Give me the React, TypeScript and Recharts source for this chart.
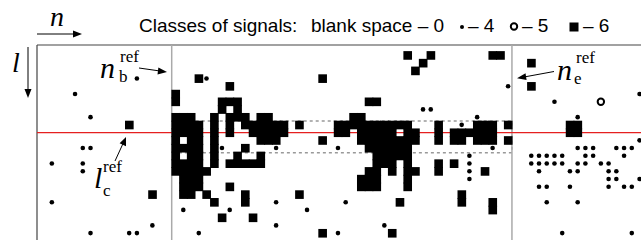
import { ScatterChart, Scatter, XAxis, YAxis, ReferenceLine, ReferenceArea } from 'recharts';

// signal classes on the (n, l) grid, one list of n-columns per row l
const squareRows: number[][] = [
  [],
  [48, 51, 59, 60],
  [50, 64],
  [49],
  [21, 37],
  [25, 64],
  [18],
  [18, 24, 25, 26, 43, 44],
  [24, 26],
  [18, 19, 20, 23, 25, 26, 27, 29, 30, 41, 42],
  [12, 18, 19, 20, 21, 23, 25, 27, 28, 29, 30, 31, 32, 34, 39, 40, 41, 42, 43, 44, 45, 46, 47, 48, 52, 57, 58, 59, 61, 69, 70],
  [18, 19, 20, 21, 23, 25, 28, 29, 30, 31, 32, 39, 40, 42, 43, 44, 45, 46, 48, 49, 52, 54, 55, 56, 57, 58, 59, 69, 70],
  [18, 20, 21, 23, 29, 30, 31, 37, 42, 43, 44, 45, 46, 47, 48, 49, 52, 54, 55, 57, 58, 59, 61],
  [18, 19, 20, 21, 23, 27, 43, 44, 45, 46, 47, 48],
  [18, 20, 21, 23, 26, 29, 44, 45, 46, 47, 48],
  [18, 19, 20, 21, 23, 25, 26, 27, 28, 29, 44, 45, 46, 48, 52, 54],
  [18, 19, 20, 21, 22, 43, 44, 46, 48, 49, 52, 58],
  [19, 20, 21, 42, 43, 44, 48],
  [19, 20, 21, 25, 42, 43, 44, 48],
  [15, 19, 20, 22, 27, 34, 55],
  [23, 27, 47, 55, 59],
  [59],
  [24, 28],
  [],
  [37, 46],
  [],
];

const dotRows: number[][] = [
  [],
  [],
  [],
  [],
  [13, 22],
  [61],
  [5, 78],
  [67],
  [50, 51],
  [7, 57, 70],
  [55],
  [],
  [78],
  [6, 7, 24, 31, 39, 59, 70, 71, 72, 75, 76, 77],
  [56, 64, 65, 66, 67, 68, 71, 72, 76],
  [2, 6, 56, 64, 65, 66, 67, 68, 70, 71, 73, 74],
  [6, 56, 65, 69, 70, 74, 75],
  [56, 74, 75, 78],
  [65, 66, 69, 74, 76, 77],
  [],
  [2, 31, 40, 66, 70],
  [19, 25, 35],
  [],
  [15, 31, 45],
  [7, 12, 13, 21, 39, 68, 77],
  [],
];

// [n, l]
const circleCells: number[][] = [[73, 7]];

const nRefB = 18;
const nRefE = 62;
const lRefC = 11.5;
const bandTop = 10;
const bandBottom = 14.1;
const nDomain = [0.58, 78.69];
const lDomain = [0.17, 25.39];

const W = 641;
const H = 240;
const M = { top: 45, left: 37, right: 0, bottom: 0 };
const CELL = (W - M.left - M.right) / (nDomain[1] - nDomain[0]);

const toPoints = (rows: number[][]) =>
  rows.flatMap((cols, l) => cols.map((n) => ({ n: n + 0.5, l: l + 0.5 })));

const squares = toPoints(squareRows);
const dots = toPoints(dotRows);
const circles = circleCells.map(([n, l]) => ({ n: n + 0.5, l: l + 0.5 }));

// slightly oversized so neighbouring cells merge without seams
const SquareShape = (p: any) => (
  <rect x={p.cx - CELL / 2 - 0.3} y={p.cy - CELL / 2 - 0.3} width={CELL + 0.9} height={CELL + 0.9} fill="#000" />
);
const DotShape = (p: any) => <circle cx={p.cx} cy={p.cy} r={2.3} fill="#000" />;
const RingShape = (p: any) => (
  <circle cx={p.cx} cy={p.cy} r={3.2} fill="none" stroke="#000" strokeWidth={2} />
);

const serif = '"Liberation Serif", "Times New Roman", serif';
const sans = '"Liberation Sans", Arial, sans-serif';

function Annotations() {
  return (
    <svg width={W} height={H} style={{ position: 'absolute', left: 0, top: 0, pointerEvents: 'none' }}>
      {/* n axis arrow */}
      <text x={50} y={26} fontFamily={serif} fontStyle="italic" fontSize={28}>n</text>
      <line x1={37} y1={34} x2={76} y2={34} stroke="#000" strokeWidth={1} />
      <path d="M82,34 L73,30.5 L73,37.5 Z" fill="#000" />
      {/* l axis arrow */}
      <text x={12} y={72} fontFamily={serif} fontStyle="italic" fontSize={28}>l</text>
      <line x1={28} y1={47} x2={28} y2={91} stroke="#000" strokeWidth={1} />
      <path d="M28,98 L24.5,89 L31.5,89 Z" fill="#000" />

      {/* legend */}
      <g fontFamily={sans} fontSize={19} fill="#000">
        <text x={139} y={32}>Classes of signals:</text>
        <text x={311} y={32}>blank space – 0</text>
        <circle cx={462} cy={27} r={2} fill="#000" />
        <text x={468} y={32}>– 4</text>
        <circle cx={514} cy={26.5} r={3.2} fill="none" stroke="#000" strokeWidth={2} />
        <text x={522} y={32}>– 5</text>
        <rect x={569.5} y={22.5} width={9} height={9} fill="#000" />
        <text x={583} y={32}>– 6</text>
      </g>

      {/* n_b ref */}
      <g fontFamily={serif} fill="#000">
        <text x={100} y={78} fontStyle="italic" fontSize={30}>n</text>
        <text x={120} y={62} fontSize={17}>ref</text>
        <text x={119} y={82} fontSize={17}>b</text>
      </g>
      <line x1={139} y1={68} x2={160} y2={71} stroke="#000" strokeWidth={1} />
      <path d="M167,72 L158.4,67.5 L157.5,74.4 Z" fill="#000" />

      {/* l_c ref */}
      <g fontFamily={serif} fill="#000">
        <text x={94} y={188} fontStyle="italic" fontSize={30}>l</text>
        <text x={103} y={172} fontSize={17}>ref</text>
        <text x={103} y={196} fontSize={17}>c</text>
      </g>
      <line x1={115} y1={161} x2={123.5} y2={142.5} stroke="#000" strokeWidth={1} />
      <path d="M126,137 L119.6,143.3 L126,146.2 Z" fill="#000" />

      {/* n_e ref */}
      <g fontFamily={serif} fill="#000">
        <text x={557} y={80} fontStyle="italic" fontSize={30}>n</text>
        <text x={576} y={63} fontSize={17}>ref</text>
        <text x={574} y={84} fontSize={17}>e</text>
      </g>
      <line x1={554} y1={71.5} x2={524} y2={77} stroke="#000" strokeWidth={1} />
      <path d="M517,78.2 L525.5,73.2 L526.6,80.1 Z" fill="#000" />
    </svg>
  );
}

export default function App() {
  return (
    <div style={{ position: 'absolute', left: 0, top: 0, width: W, height: H, background: '#fff' }}>
      <ScatterChart width={W} height={H} margin={M}>
        <XAxis dataKey="n" type="number" domain={nDomain} allowDataOverflow hide />
        <YAxis dataKey="l" type="number" domain={lDomain} allowDataOverflow reversed hide />
        <Scatter data={squares} shape={SquareShape} isAnimationActive={false} />
        <Scatter data={dots} shape={DotShape} isAnimationActive={false} />
        <Scatter data={circles} shape={RingShape} isAnimationActive={false} />
        <ReferenceLine x={nDomain[0]} stroke="#444" strokeWidth={1.2} />
        <ReferenceLine y={lDomain[0]} stroke="#444" strokeWidth={1.2} />
        <ReferenceLine x={nRefB} stroke="#aaa" strokeWidth={1.5} />
        <ReferenceLine x={nRefE} stroke="#aaa" strokeWidth={1.5} />
        <ReferenceArea
          x1={nRefB}
          x2={nRefE}
          y1={bandTop}
          y2={bandBottom}
          fill="none"
          fillOpacity={0}
          stroke="#999"
          strokeWidth={1.5}
          strokeDasharray="3 3"
        />
        <ReferenceLine y={lRefC} stroke="#e52020" strokeWidth={1.2} />
      </ScatterChart>
      <Annotations />
    </div>
  );
}
